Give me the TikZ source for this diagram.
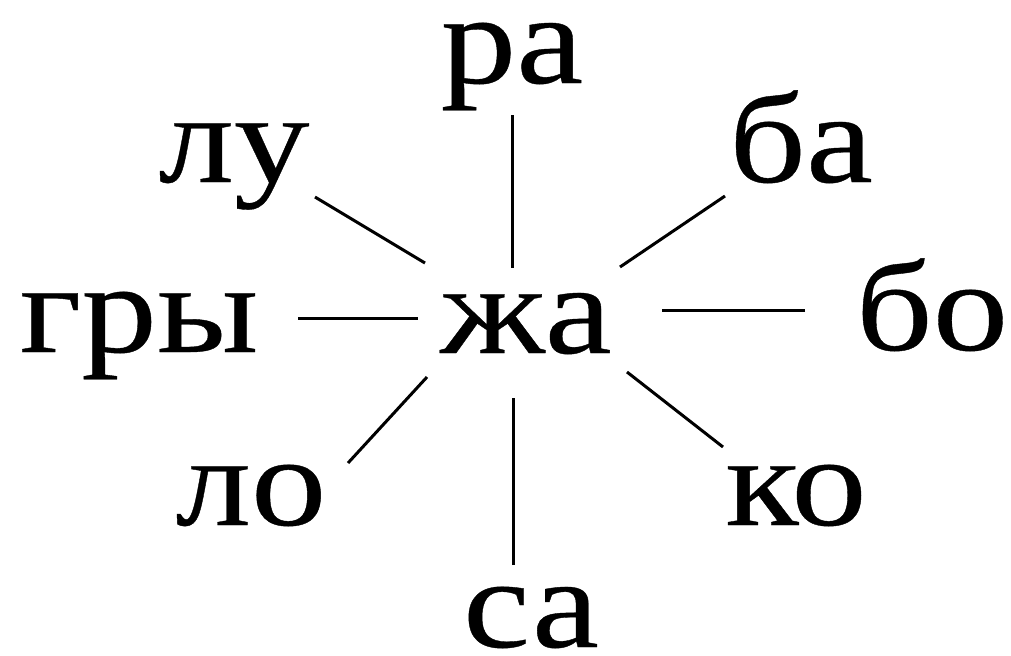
\documentclass[tikz,border=0pt]{standalone}
\usepackage{fontspec}
\setmainfont[FakeStretch=1.18,FakeBold=0.3]{Liberation Serif}
\begin{document}
\begin{tikzpicture}[x=.5pt,y=-.5pt,
    syl/.style={anchor=base,inner sep=0pt,font=\fontsize{64}{72}\selectfont},
    spoke/.style={line width=1.5pt}]
  \useasboundingbox (0,0) rectangle (1011,655);
  \node[syl] (zha) at (526,353) {жа};
  \node[syl] (ra)  at (512,83)  {ра};
  \node[syl] (lu)  at (234,182) {лу};
  \node[syl] (ba)  at (801,182) {ба};
  \node[syl] (gry) at (139,352) {гры};
  \node[syl] (bo)  at (932,350) {бо};
  \node[syl] (lo)  at (251,525) {ло};
  \node[syl] (ko)  at (796,525) {ко};
  \node[syl] (sa)  at (531,647) {са};
  % spokes round the centre syllable
  \draw[spoke] ([shift={(0,32)}]ra.base)     -- ([shift={(-14,-85)}]zha.base);
  \draw[spoke] ([shift={(81,15)}]lu.base)    -- ([shift={(-101,-90)}]zha.base);
  \draw[spoke] ([shift={(-76,14)}]ba.base)   -- ([shift={(94,-86)}]zha.base);
  \draw[spoke] ([shift={(159,-34)}]gry.base) -- ([shift={(-108,-35)}]zha.base);
  \draw[spoke] ([shift={(-127,-40)}]bo.base) -- ([shift={(136,-43)}]zha.base);
  \draw[spoke] ([shift={(97,-62)}]lo.base)   -- ([shift={(-99,24)}]zha.base);
  \draw[spoke] ([shift={(-73,-78)}]ko.base)  -- ([shift={(101,19)}]zha.base);
  \draw[spoke] ([shift={(-18,-82)}]sa.base)  -- ([shift={(-13,45)}]zha.base);
\end{tikzpicture}
\end{document}
